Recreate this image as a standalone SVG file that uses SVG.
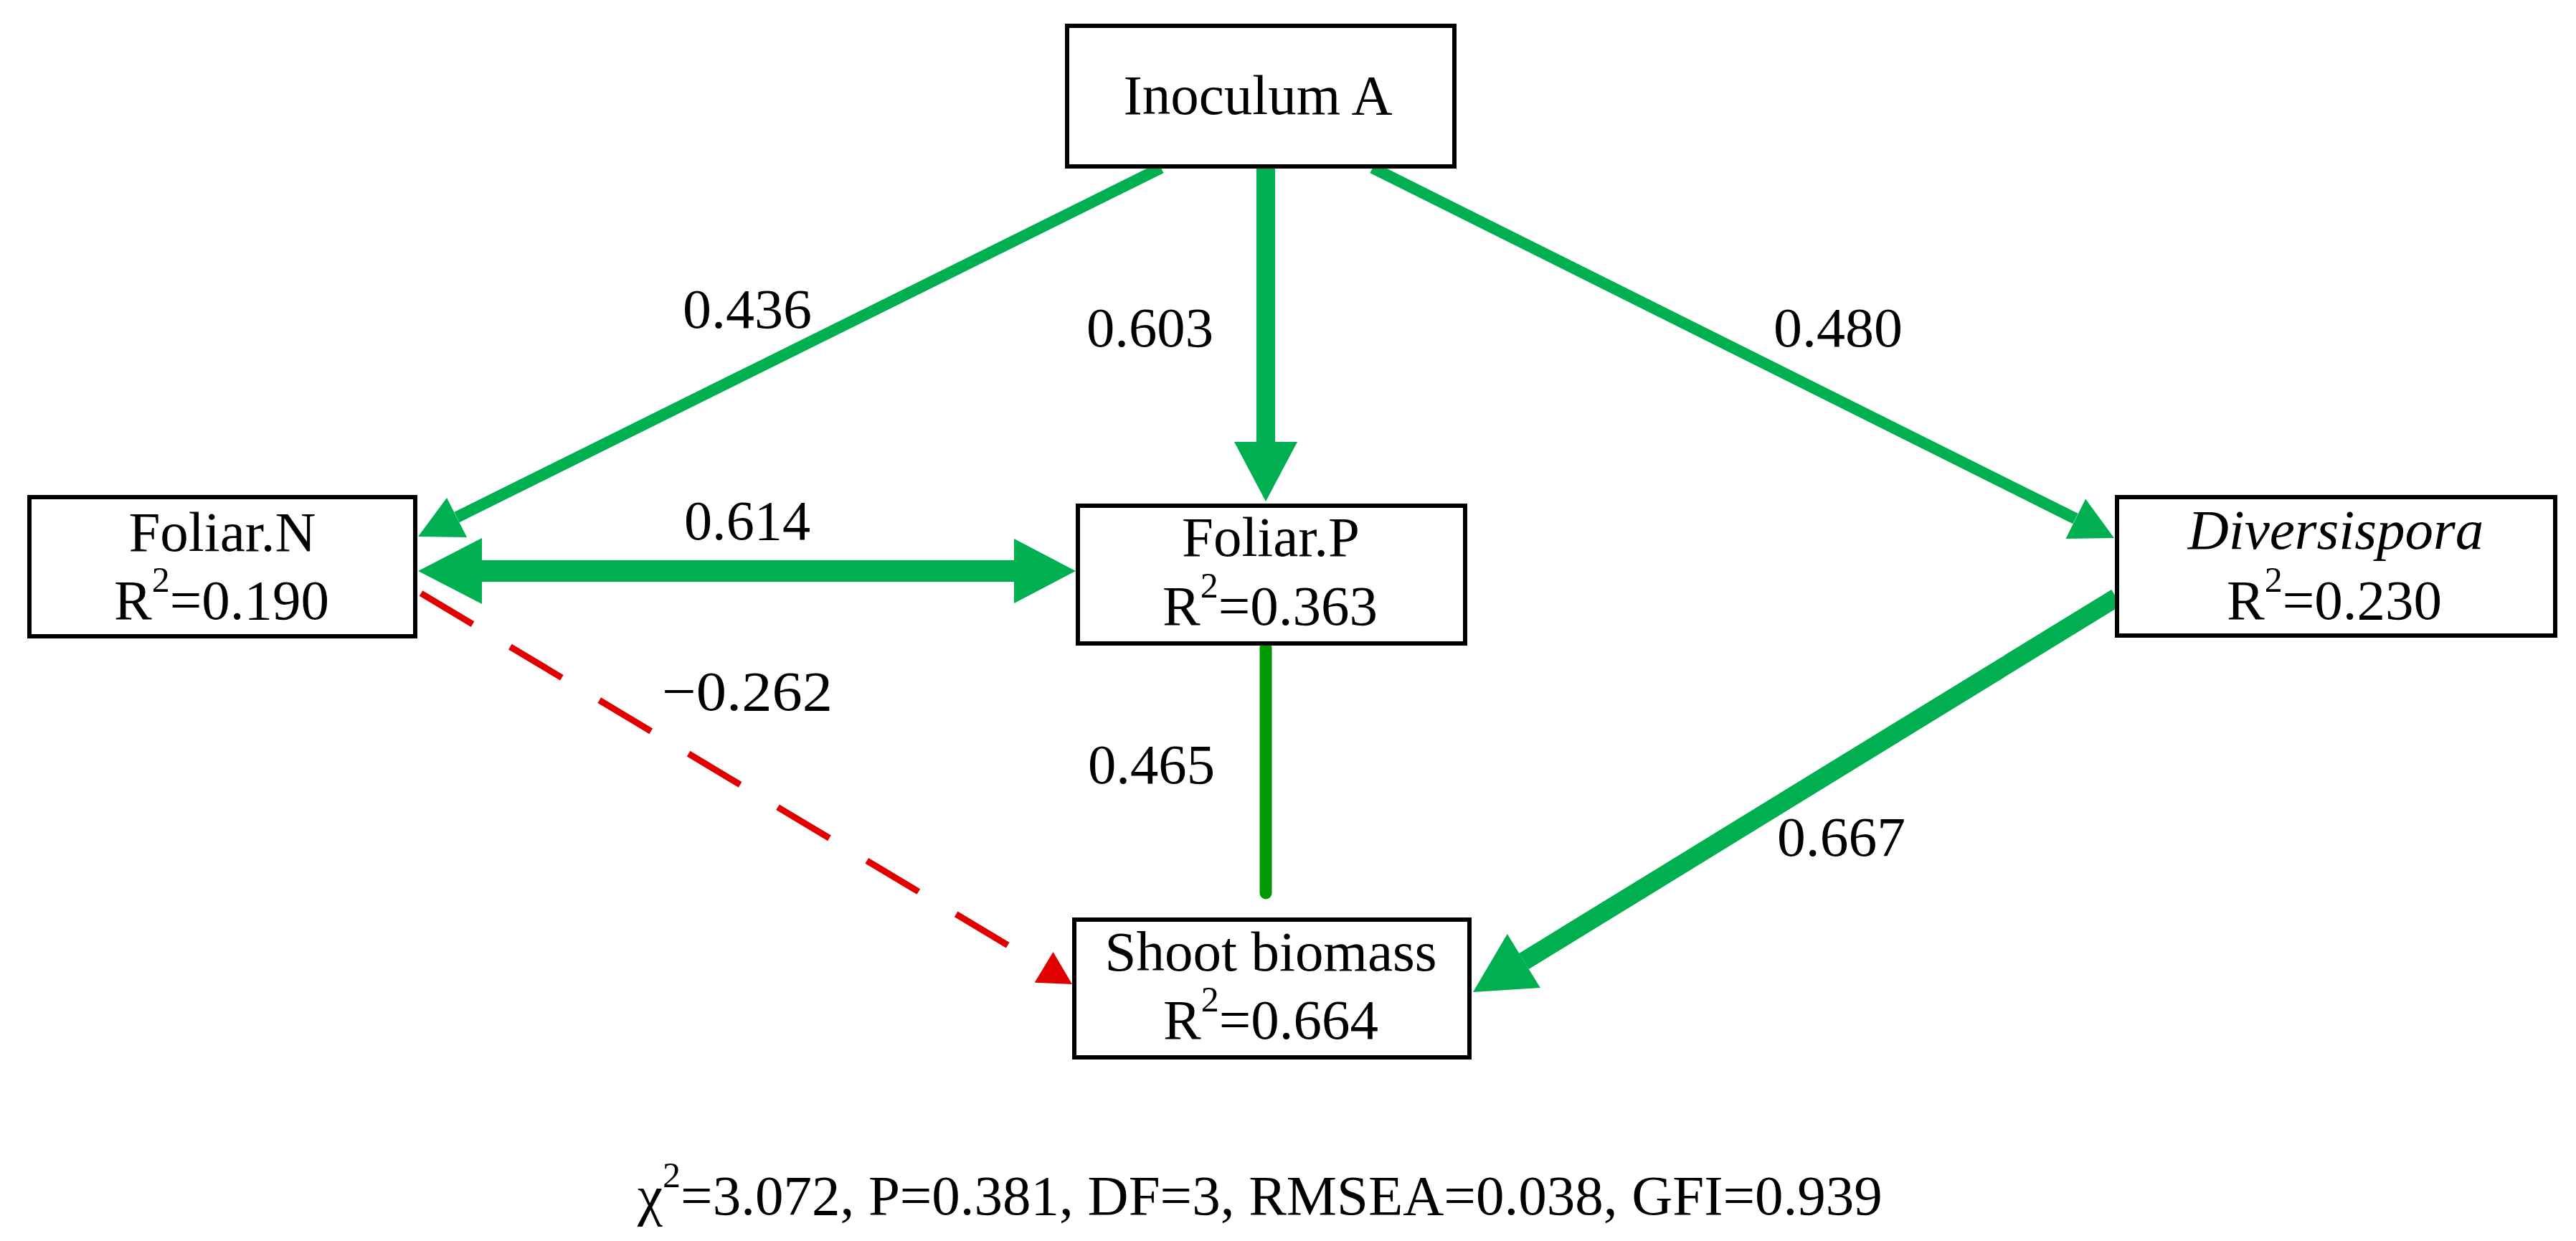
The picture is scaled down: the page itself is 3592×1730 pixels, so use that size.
<svg xmlns="http://www.w3.org/2000/svg" width="3592" height="1730" viewBox="0 0 3592 1730">
<style>
text{font-family:"Liberation Serif","Times New Roman",serif;font-size:79px;fill:#000}
.box{fill:#fff;stroke:#000;stroke-width:6}
.g{stroke:#00B050;fill:none}
.gh{fill:#00B050}
.sup{font-size:50px}
.mid{text-anchor:middle}
</style>
<rect width="3592" height="1730" fill="#fff"/>
<g id="connectors">
  <line class="g" x1="1619" y1="234" x2="637" y2="721" stroke-width="16"/>
  <polygon class="gh" points="583,748 651,749 623,694"/>
  <line class="g" x1="1765" y1="232" x2="1765" y2="620" stroke-width="26"/>
  <polygon class="gh" points="1765,699 1721,616 1809,616"/>
  <line class="g" x1="1914" y1="234" x2="2894" y2="723" stroke-width="16"/>
  <polygon class="gh" points="2948,750 2880.5,750.9 2908.1,695.5"/>
  <line class="g" x1="668" y1="796" x2="1416" y2="796" stroke-width="30"/>
  <polygon class="gh" points="583,796 672,750 672,842"/>
  <polygon class="gh" points="1500,796 1414,751 1414,841"/>
  <line x1="1765" y1="903" x2="1765" y2="1245" stroke="#009A00" stroke-width="17" stroke-linecap="round"/>
  <line x1="587" y1="827" x2="1456" y2="1348" stroke="#E00000" stroke-width="9" stroke-dasharray="84 61"/>
  <polygon fill="#E00000" points="1495,1372 1442.7,1369.7 1468.5,1326.9"/>
  <line class="g" x1="2951" y1="833" x2="2125" y2="1340" stroke-width="26"/>
  <polygon class="gh" points="2054,1383 2147.8,1377.1 2101.8,1302.1"/>
</g>
<g id="node-inoculum">
  <rect class="box" x="1488" y="36" width="540" height="196"/>
  <text class="mid" x="1754" y="159">Inoculum A</text>
</g>
<g id="node-foliarN">
  <rect class="box" x="41" y="693" width="538" height="194"/>
  <text class="mid" x="310" y="768">Foliar.N</text>
  <text class="mid" x="309" y="863">R<tspan class="sup" dy="-38">2</tspan><tspan dy="38">=0.190</tspan></text>
</g>
<g id="node-foliarP">
  <rect class="box" x="1503" y="705" width="540" height="192"/>
  <text class="mid" x="1772" y="775">Foliar.P</text>
  <text class="mid" x="1771" y="871">R<tspan class="sup" dy="-38">2</tspan><tspan dy="38">=0.363</tspan></text>
</g>
<g id="node-diversispora">
  <rect class="box" x="2952" y="693" width="611" height="193"/>
  <text class="mid" x="3257" y="765" font-style="italic">Diversispora</text>
  <text class="mid" x="3255" y="863">R<tspan class="sup" dy="-38">2</tspan><tspan dy="38">=0.230</tspan></text>
</g>
<g id="node-shoot">
  <rect class="box" x="1498" y="1282" width="551" height="192"/>
  <text class="mid" x="1772" y="1353">Shoot biomass</text>
  <text class="mid" x="1772" y="1448">R<tspan class="sup" dy="-38">2</tspan><tspan dy="38">=0.664</tspan></text>
</g>
<g id="labels">
  <text x="952" y="457" textLength="180" lengthAdjust="spacingAndGlyphs">0.436</text>
  <text x="1515" y="483" textLength="177" lengthAdjust="spacingAndGlyphs">0.603</text>
  <text x="2473" y="483" textLength="180" lengthAdjust="spacingAndGlyphs">0.480</text>
  <text x="954" y="752" textLength="176" lengthAdjust="spacingAndGlyphs">0.614</text>
  <text x="923" y="990" textLength="238" lengthAdjust="spacingAndGlyphs">−0.262</text>
  <text x="1517" y="1092" textLength="177" lengthAdjust="spacingAndGlyphs">0.465</text>
  <text x="2478" y="1193" textLength="179" lengthAdjust="spacingAndGlyphs">0.667</text>
  <text x="889" y="1693" font-size="80">χ<tspan class="sup" dy="-38">2</tspan><tspan dy="38">=3.072, P=0.381, DF=3, RMSEA=0.038, GFI=0.939</tspan></text>
</g>
</svg>
